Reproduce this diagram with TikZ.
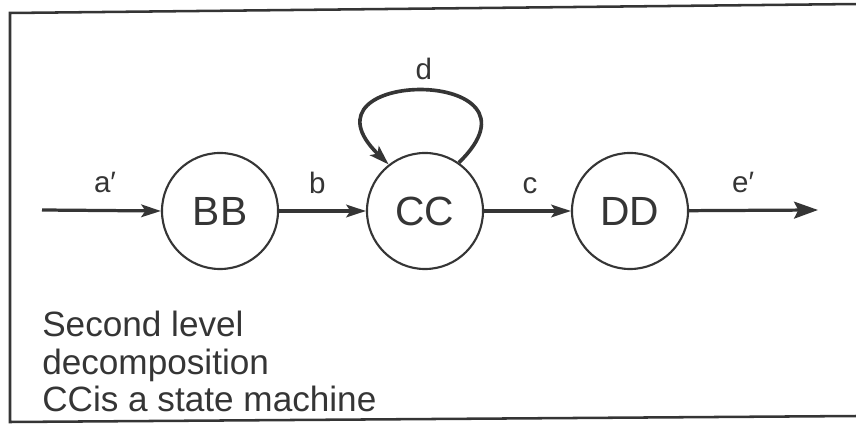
\documentclass[tikz,border=0pt]{standalone}
\usepackage{fontspec}
\setmainfont{Liberation Sans}
\usepackage{xcolor}
\definecolor{colInk}{HTML}{353535}
\usepackage{tikz}
\usetikzlibrary{arrows.meta, positioning}

\tikzset{
  state/.style={circle, draw=colInk, line width=1.5pt, minimum size=2.9cm,
    inner sep=0pt, font=\fontsize{29}{31}\selectfont, text=colInk},
  flow/.style={draw=colInk, line width=2.3pt,
    -{Stealth[length=14pt, width=9pt, inset=3pt]}},
  flowlabel/.style={font=\fontsize{21}{23}\selectfont, text=colInk},
  frame/.style={draw=colInk, line width=1.8pt},
}

\begin{document}
\begin{tikzpicture}[x=0.025cm, y=-0.025cm]
  \useasboundingbox (0,0) rectangle (856,425);

  % === Frame (open on the right) ===
  \draw[frame] (858,4) -- (10,13) -- (10,422) -- (858,416);

  % === States ===
  \node[state] (bb) at (220,211) {BB};
  \node[state] (cc) at (425,211) {CC};
  \node[state] (dd) at (630,211) {DD};

  \coordinate (in)  at (42,210);
  \coordinate (out) at (818,210);

  % === Transitions ===
  \draw[flow] (in) -- (bb.west)
    node[flowlabel, pos=0.53, above=8pt] {a′};
  \draw[flow] (bb) -- (cc)
    node[flowlabel, pos=0.44, above=8pt] {b};
  \draw[flow] (cc) -- (dd)
    node[flowlabel, pos=0.53, above=8pt] {c};
  \draw[flow, -{Stealth[length=17pt, width=12pt, inset=3pt]}] (dd) -- (out)
    node[flowlabel, pos=0.42, above=8pt] {e′};

  % self loop on CC
  \draw[flow, line width=2.6pt] (cc.55) .. controls +(100,-97) and +(-100,-97) .. (cc.128)
    node[flowlabel, pos=0.5, above=3pt] {d};

  % === Note ===
  \node[anchor=north west, inner sep=0pt, align=left, text=colInk,
        font=\fontsize{25}{26.5}\selectfont] (note) at (42,311)
    {Second level\\decomposition\\CCis a state machine};
\end{tikzpicture}
\end{document}
